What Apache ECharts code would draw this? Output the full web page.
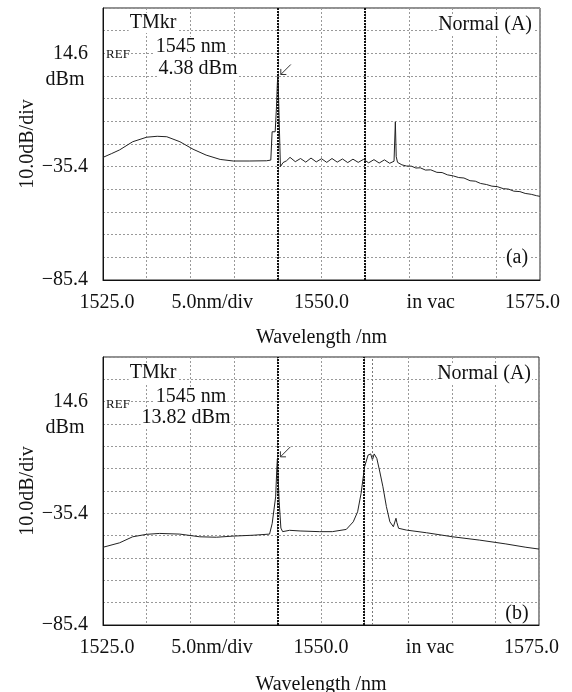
<!DOCTYPE html>
<html>
<head>
<meta charset="utf-8">
<title>OSA spectra</title>
<script src="https://cdn.jsdelivr.net/npm/echarts@6/dist/echarts.min.js"></script>
<style>
  html, body { margin: 0; padding: 0; background: #fff; }
  #main { width: 572px; height: 692px; }
</style>
</head>
<body>
<div id="main"></div>
<script>
  // panel (a): trace (nm / dBm)
  var wavelengthA = [1525.0, 1526.0, 1526.9, 1528.4, 1530.0, 1531.2, 1532.3, 1533.8, 1535.3, 1536.8,
    1538.4, 1539.9, 1541.8, 1543.7, 1544.2, 1544.35, 1544.5, 1544.7, 1544.85, 1544.95,
    1545.0, 1545.05, 1545.15, 1545.3, 1545.6, 1546.0, 1546.4, 1547.0, 1547.6, 1548.2,
    1548.8, 1549.4, 1550.0, 1550.6, 1551.2, 1551.8, 1552.4, 1553.0, 1553.6, 1554.2,
    1554.8, 1555.4, 1556.0, 1556.6, 1557.2, 1557.8, 1558.3, 1558.45, 1558.55, 1558.7,
    1559.2, 1559.7, 1560.3, 1560.8, 1561.3, 1561.9, 1562.5, 1563.2, 1563.8, 1564.4,
    1565.1, 1565.7, 1566.3, 1567.0, 1567.6, 1568.2, 1568.9, 1569.5, 1570.1, 1570.8,
    1571.4, 1572.0, 1572.7, 1573.3, 1574.0, 1574.6, 1575.0]
  var powerA = [-31.3, -29.6, -28.0, -24.4, -22.4, -22.0, -22.2, -24.4, -27.7, -30.3,
    -32.2, -32.9, -32.9, -32.8, -32.5, -20.0, -19.8, -20.0, -9.0, 1.5,
    4.38, 1.0, -14.0, -35.4, -33.6, -32.8, -31.3, -33.2, -31.8, -33.4,
    -31.6, -33.3, -31.9, -33.5, -31.8, -33.4, -32.0, -33.6, -32.1, -33.5,
    -32.2, -33.7, -32.3, -33.8, -32.4, -33.9, -33.0, -15.6, -31.0, -33.5,
    -34.6, -35.1, -35.2, -36.0, -35.9, -36.9, -36.8, -37.9, -38.0, -39.0,
    -39.5, -40.2, -40.4, -41.6, -41.8, -42.8, -43.3, -44.0, -44.2, -45.1,
    -45.3, -46.2, -46.4, -47.2, -47.6, -48.2, -48.5]

  // panel (b)
  var wavelengthB = [1525.0, 1526.9, 1528.4, 1530.0, 1531.5, 1533.8, 1536.1, 1538.0, 1539.9, 1542.2,
    1544.1, 1544.4, 1544.6, 1544.8, 1544.95, 1545.0, 1545.05, 1545.2, 1545.4, 1545.6,
    1546.4, 1547.6, 1549.8, 1551.3, 1552.9, 1553.7, 1554.2, 1554.6, 1555.0, 1555.4,
    1555.7, 1555.9, 1556.1, 1556.4, 1556.7, 1557.1, 1557.5, 1557.9, 1558.3, 1558.6,
    1558.7, 1558.9, 1559.8, 1562.1, 1565.1, 1568.2, 1571.2, 1573.5, 1575.0]
  var powerB = [-50.6, -48.6, -45.9, -44.8, -44.4, -44.7, -45.9, -46.1, -45.6, -45.2,
    -44.7, -40.0, -39.5, -28.0, -14.0, -11.0, -16.0, -30.0, -42.0, -43.6,
    -43.0, -43.3, -43.6, -43.6, -42.6, -39.2, -34.7, -26.4, -14.5, -9.3,
    -8.8, -11.5, -8.8, -10.8, -16.0, -23.5, -32.4, -39.2, -41.4, -37.6,
    -39.5, -42.1, -42.9, -44.1, -45.9, -47.4, -49.1, -50.6, -51.4]

  // markers (vertical lines) and the marker tip
  var markersA = [1545, 1555]
  var markersB = [1545, 1554.9]
  var lightMarkersA = []
  var lightMarkersB = [1555.9]
  var markerTipA = [1545, 4.38]
  var markerTipB = [1545, -11.0]

  // tick labels
  var xTickValues = [1525, 1537.5, 1550, 1562.5, 1575]
  var xTickLabels = ['{first|1525.0}', '5.0nm/div', '1550.0', 'in vac', '{last|1575.0}']
  var yTickValues = [14.6, -35.4, -85.4]
  var yTickLabels = ['14.6', '\u221235.4', '\u221285.4']

  var FONT = '"Liberation Serif", "DejaVu Serif", serif'
  var grids = [
    { left: 103, top: 8, width: 437, height: 272 },
    { left: 103, top: 357, width: 436, height: 268 }
  ]

  function zip(xs, ys) {
    var out = []
    for (var i = 0; i < xs.length; i++) out.push([xs[i], ys[i]])
    return out
  }

  var option = {
    animation: false,
    backgroundColor: '#fff',
    textStyle: { fontFamily: FONT, color: '#111' },
    grid: grids.map(function (g) {
      return Object.assign({
        show: true, borderColor: '#222', borderWidth: 1, backgroundColor: '#fff',
        containLabel: false, outerBoundsMode: 'none'
      }, g)
    }),
    xAxis: [],
    yAxis: [],
    series: [],
    graphic: []
  }

  ;[0, 1].forEach(function (i) {
    // 5 nm/div grid
    option.xAxis.push({
      type: 'value', gridIndex: i, min: 1525, max: 1575, interval: 5, position: 'bottom',
      axisLine: { show: false }, axisTick: { show: false }, axisLabel: { show: false },
      splitLine: { show: true, lineStyle: { color: '#999', type: [2, 2], width: 1 } }
    })
    // labelled axis
    option.xAxis.push({
      type: 'value', gridIndex: i, min: 1525, max: 1575, interval: 12.5, position: 'bottom',
      name: 'Wavelength /nm', nameLocation: 'middle', nameGap: i === 0 ? 48 : 50,
      nameMoveOverlap: false,
      nameTextStyle: { fontFamily: FONT, fontSize: 20, color: '#111' },
      axisLine: { show: true, lineStyle: { color: '#111', width: 1 } },
      axisTick: { show: false },
      splitLine: { show: false },
      axisLabel: {
        fontFamily: FONT, fontSize: 20, color: '#111', margin: 13,
        rich: {
          first: { fontFamily: FONT, fontSize: 20, color: '#111', padding: [0, 0, 0, 8] },
          last: { fontFamily: FONT, fontSize: 20, color: '#111', padding: [0, 15, 0, 0] }
        },
        formatter: function (v) {
          for (var k = 0; k < xTickValues.length; k++) {
            if (Math.abs(v - xTickValues[k]) < 0.01) return xTickLabels[k]
          }
          return ''
        }
      }
    })
    option.yAxis.push({
      type: 'value', gridIndex: i, min: -85.4, max: 34.6, interval: 10,
      name: '10.0dB/div', nameLocation: 'middle', nameGap: 65, nameMoveOverlap: false,
      nameTextStyle: { fontFamily: FONT, fontSize: 20, color: '#111' },
      axisLine: { show: true, lineStyle: { color: '#111', width: 1 } },
      axisTick: { show: false },
      splitLine: { show: true, lineStyle: { color: '#999', type: [2, 2], width: 1 } },
      axisLabel: {
        fontFamily: FONT, fontSize: 20, color: '#111', margin: 15,
        formatter: function (v) {
          for (var k = 0; k < yTickValues.length; k++) {
            if (Math.abs(v - yTickValues[k]) < 0.01) return yTickLabels[k]
          }
          return ''
        }
      }
    })
  })

  var arrowPath = 'path://M10,0 L1,9 M1,9 L1,4 M1,9 L6,9'

  function trace(i, xs, ys, marks, lightMarks, tip) {
    var lines = marks.map(function (m) {
      return { xAxis: m, lineStyle: { color: '#111', width: 2, type: [2, 1] } }
    })
    lightMarks.forEach(function (m) {
      lines.push({ xAxis: m, lineStyle: { color: '#777', width: 1, type: [2, 2] } })
    })
    return {
      type: 'line', xAxisIndex: i * 2, yAxisIndex: i,
      data: zip(xs, ys), showSymbol: false, symbol: 'none',
      lineStyle: { color: '#222', width: 1 },
      markLine: { silent: true, symbol: 'none', label: { show: false }, data: lines },
      markPoint: {
        silent: true, symbol: arrowPath, symbolSize: 10, symbolOffset: [8, -7],
        itemStyle: { color: 'none', borderColor: '#333', borderWidth: 1 },
        label: { show: false },
        data: [{ coord: tip }]
      }
    }
  }
  option.series.push(trace(0, wavelengthA, powerA, markersA, lightMarkersA, markerTipA))
  option.series.push(trace(1, wavelengthB, powerB, markersB, lightMarkersB, markerTipB))

  function txt(x, y, s, size, align) {
    return {
      type: 'text', x: x, y: y, z: 100,
      style: {
        text: s, font: size + 'px ' + FONT, fill: '#111',
        align: align || 'center', verticalAlign: 'middle',
        backgroundColor: '#fff', padding: [0, 1]
      }
    }
  }
  option.graphic = [
    // panel (a)
    txt(65, 80, 'dBm', 20),
    txt(153, 23, 'TMkr', 20),
    txt(118, 55, 'REF', 13),
    txt(191, 47, '1545 nm', 20),
    txt(198, 69, '4.38 dBm', 20),
    txt(533, 25, 'Normal (A)', 20, 'right'),
    txt(517, 258, '(a)', 20),
    // panel (b)
    txt(65, 428, 'dBm', 20),
    txt(153, 373, 'TMkr', 20),
    txt(118, 405, 'REF', 13),
    txt(191, 397, '1545 nm', 20),
    txt(186, 418, '13.82 dBm', 20),
    txt(532, 374, 'Normal (A)', 20, 'right'),
    txt(517, 614, '(b)', 20)
  ]

  var myChart = echarts.init(document.getElementById('main'))
  myChart.setOption(option)
  window.addEventListener('resize', function () {
    myChart.resize()
  })
</script>
</body>
</html>
